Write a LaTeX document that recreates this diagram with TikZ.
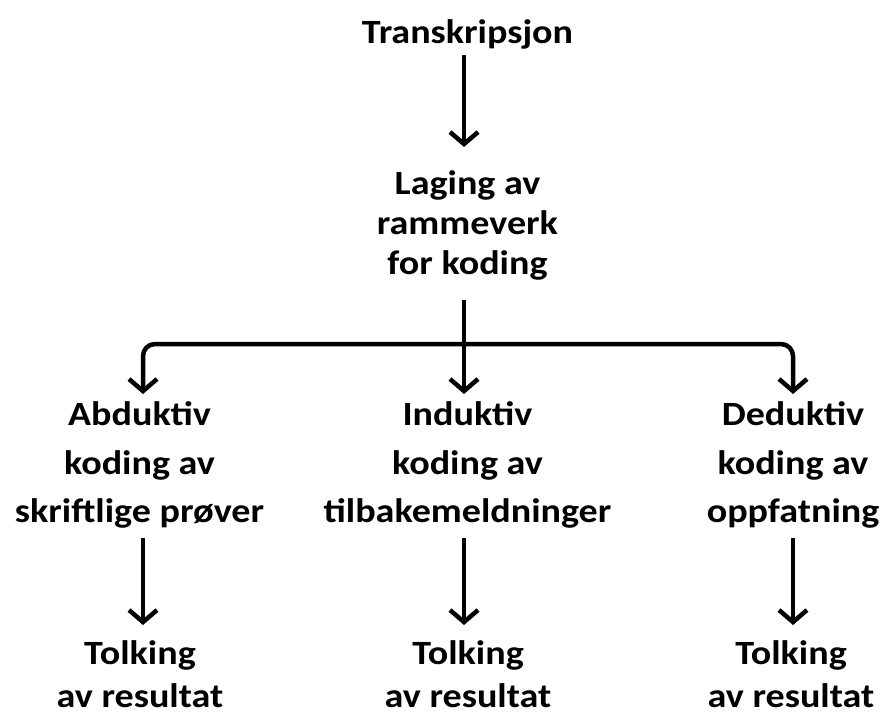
\documentclass[tikz,border=0pt]{standalone}
\usepackage{fontspec}
\setmainfont{Carlito}[FakeStretch=1.12]
\usetikzlibrary{arrows.meta}
\begin{document}
\begin{tikzpicture}[x=1pt,y=-1pt,
  lbl/.style={font=\bfseries\fontsize{34}{40}\selectfont, align=center, inner sep=0pt},
  lblw/.style={lbl, font=\bfseries\fontsize{34}{48.5}\selectfont},
  lblt/.style={lbl, font=\bfseries\fontsize{34}{43}\selectfont},
  tip/.tip={Straight Barb[length=12pt,width=28pt,line width=4.5pt]},
  arr/.style={line width=4.5pt, -tip},
  conn/.style={line width=4.5pt, rounded corners=12pt, tip-tip}]
\useasboundingbox (0,0) rectangle (885,717);
\node[lbl] (t) at (467.5,34) {Transkripsjon};
\node[lbl] (l) at (467.5,225) {Laging av\\rammeverk\\for koding};
\node[lblw] (a) at (139.5,465) {Abduktiv\\koding av\\skriftlige prøver};
\node[lblw] (i) at (467.5,465) {Induktiv\\koding av\\tilbakemeldninger};
\node[lblw] (d) at (793,465) {Deduktiv\\koding av\\oppfatning};
\node[lblt] (ta) at (140,674.5) {Tolking\\av resultat};
\node[lblt] (ti) at (468,674.5) {Tolking\\av resultat};
\node[lblt] (td) at (791,674.5) {Tolking\\av resultat};
\coordinate (ax) at (143,0);
\coordinate (ix) at (464,0);
\coordinate (dx) at (793,0);
\coordinate (hy) at (0,344);
\coordinate (t1) at (0,55);   \coordinate (t2) at (0,147);
\coordinate (l1) at (0,300);  \coordinate (b2) at (0,394);
\coordinate (k1) at (0,538);  \coordinate (k2) at (0,625);
\draw[arr] (ix |- t1) -- (ix |- t2);
\draw[arr] (ix |- l1) -- (ix |- b2);
\draw[conn] (ax |- b2) -- (ax |- hy) -- (dx |- hy) -- (dx |- b2);
\draw[arr] (ax |- k1) -- (ax |- k2);
\draw[arr] (ix |- k1) -- (ix |- k2);
\draw[arr] (dx |- k1) -- (dx |- k2);
\end{tikzpicture}
\end{document}
